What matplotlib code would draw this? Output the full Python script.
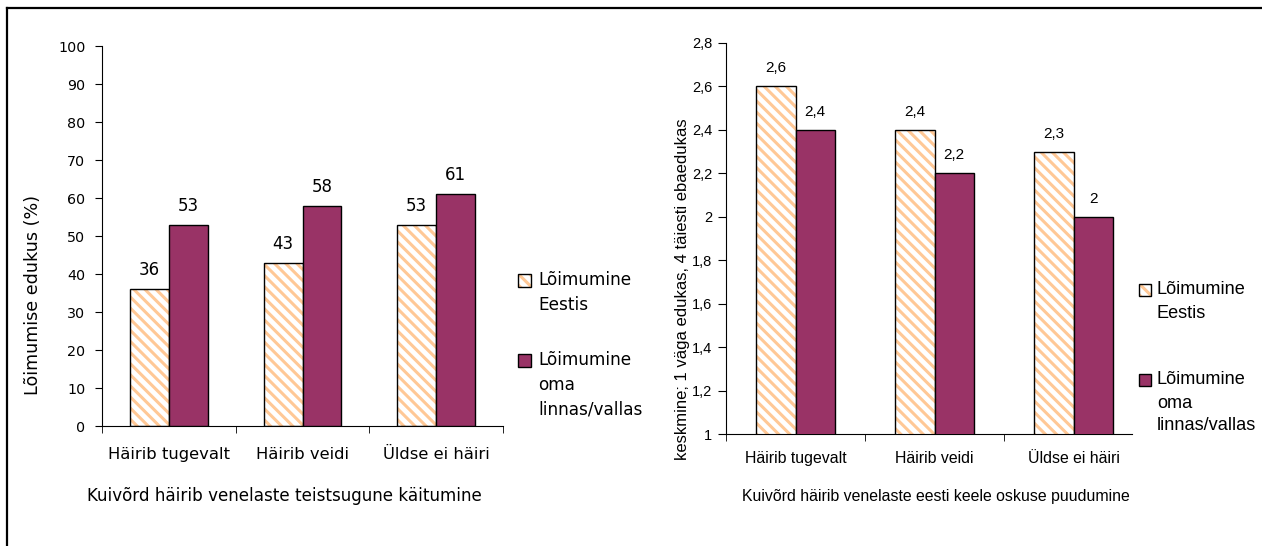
import numpy as np
import matplotlib.pyplot as plt
from matplotlib.patches import Rectangle
from matplotlib.lines import Line2D

# andmed
kategooriad = ['Häirib tugevalt', 'Häirib veidi', 'Üldse ei häiri']
eestis_pct = [36, 43, 53]
linnas_pct = [53, 58, 61]
eestis_kesk = [2.6, 2.4, 2.3]
linnas_kesk = [2.4, 2.2, 2.0]
seeria1 = ['Lõimumine', 'Eestis']
seeria2 = ['Lõimumine', 'oma', 'linnas/vallas']
vasak_yticks = [0, 10, 20, 30, 40, 50, 60, 70, 80, 90, 100]
parem_yticks = [1, 1.2, 1.4, 1.6, 1.8, 2, 2.2, 2.4, 2.6, 2.8]

ORANZ = '#FFC896'
LILLA = '#993366'
W, H = 1262, 546

plt.rcParams['hatch.linewidth'] = 2.2


def koma(v):
    return f'{v:g}'.replace('.', ',')


def px(x0, y0, x1, y1):
    return [x0 / W, 1 - y1 / H, (x1 - x0) / W, (y1 - y0) / H]


fig = plt.figure(figsize=(W / 100, H / 100), dpi=100)

# raam
fig.add_artist(Line2D([7 / W, 1], [1 - 8 / H, 1 - 8 / H], color='black', lw=1.6))
fig.add_artist(Line2D([7 / W, 7 / W], [0, 1 - 8 / H], color='black', lw=1.6))


def joonista(ax, v1, v2, w, fs_lbl, fam_lbl, off):
    x = np.arange(len(kategooriad))
    ax.bar(x - w / 2, v1, w, color='white', edgecolor=ORANZ, hatch='\\\\\\',
           linewidth=0, zorder=2)
    b1 = ax.bar(x - w / 2, v1, w, fill=False, edgecolor='black', linewidth=1, zorder=3)
    b2 = ax.bar(x + w / 2, v2, w, color=LILLA, edgecolor='black', linewidth=1, zorder=3)
    for bars, vals in ((b1, v1), (b2, v2)):
        for b, v in zip(bars, vals):
            ax.annotate(koma(v), (b.get_x() + b.get_width() / 2, b.get_height()),
                        xytext=(0, off), textcoords='offset pixels',
                        ha='center', va='center', fontsize=fs_lbl, family=fam_lbl)
    for s in ('top', 'right'):
        ax.spines[s].set_visible(False)
    ax.set_xticks(x)
    ax.set_xticklabels(kategooriad)


# vasak
ax1 = fig.add_axes(px(102, 46, 503, 426))
joonista(ax1, eestis_pct, linnas_pct, 0.29, 12, 'DejaVu Sans', 19)
ax1.set_xlim(-0.5, 2.5)
ax1.set_ylim(0, 100)
ax1.set_yticks(vasak_yticks)
ax1.set_xticks([-0.5, 0.5, 1.5, 2.5], minor=True)
ax1.tick_params(axis='x', which='major', length=0, pad=15, labelsize=11.8)
ax1.tick_params(axis='x', which='minor', length=5)
ax1.tick_params(axis='y', length=5, pad=7, labelsize=10.3)
ax1.set_ylabel('Lõimumise edukus (%)', fontsize=12.6, va='center')
ax1.yaxis.set_label_coords(-0.172, 0.345)
ax1.set_xlabel('Kuivõrd häirib venelaste teistsugune käitumine', fontsize=12.1, va='center')
ax1.xaxis.set_label_coords(0.454, -0.184)

# parem
KIRI = 'Liberation Sans'
ax2 = fig.add_axes(px(726, 43, 1132, 434))
joonista(ax2, eestis_kesk, linnas_kesk, 0.284, 11, KIRI, 18)
ax2.set_xlim(-0.5, 2.42)
ax2.set_ylim(1, 2.8)
ax2.set_yticks(parem_yticks)
ax2.set_yticklabels([koma(v) for v in parem_yticks], family=KIRI)
ax2.set_xticklabels(kategooriad, family=KIRI)
ax2.set_xticks([-0.5, 0.5, 1.5], minor=True)
ax2.tick_params(axis='x', which='major', length=0, pad=12, labelsize=11.4)
ax2.tick_params(axis='x', which='minor', length=5)
ax2.tick_params(axis='y', length=6, pad=4, labelsize=10.5)
ax2.set_ylabel('keskmine; 1 väga edukas, 4 täiesti ebaedukas', fontsize=12,
               family=KIRI, va='center')
ax2.yaxis.set_label_coords(-0.108, 0.37)
ax2.set_xlabel('Kuivõrd häirib venelaste eesti keele oskuse puudumine', fontsize=11.4,
               family=KIRI, va='center')
ax2.xaxis.set_label_coords(0.517, -0.159)


# legendid
def legend(x_sq, sq, x_txt, rida, fs, fam, kirjed):
    for (yc, read, hatch) in kirjed:
        if hatch:
            fig.add_artist(Rectangle((x_sq / W, 1 - (yc + sq / 2) / H), sq / W, sq / H,
                                     facecolor='white', edgecolor=ORANZ, hatch='\\\\\\',
                                     linewidth=0))
            fig.add_artist(Rectangle((x_sq / W, 1 - (yc + sq / 2) / H), sq / W, sq / H,
                                     fill=False, edgecolor='black', linewidth=1))
        else:
            fig.add_artist(Rectangle((x_sq / W, 1 - (yc + sq / 2) / H), sq / W, sq / H,
                                     facecolor=LILLA, edgecolor='black', linewidth=1))
        for i, t in enumerate(read):
            fig.text(x_txt / W, 1 - (yc + i * rida) / H, t, ha='left', va='center',
                     fontsize=fs, family=fam)


legend(518, 13, 538, 24.5, 12.2, 'DejaVu Sans',
       [(280, seeria1, True), (360, seeria2, False)])
legend(1139, 12, 1157, 23, 13.1, KIRI,
       [(290, seeria1, True), (380, seeria2, False)])

fig.savefig('out.png', dpi=100)
